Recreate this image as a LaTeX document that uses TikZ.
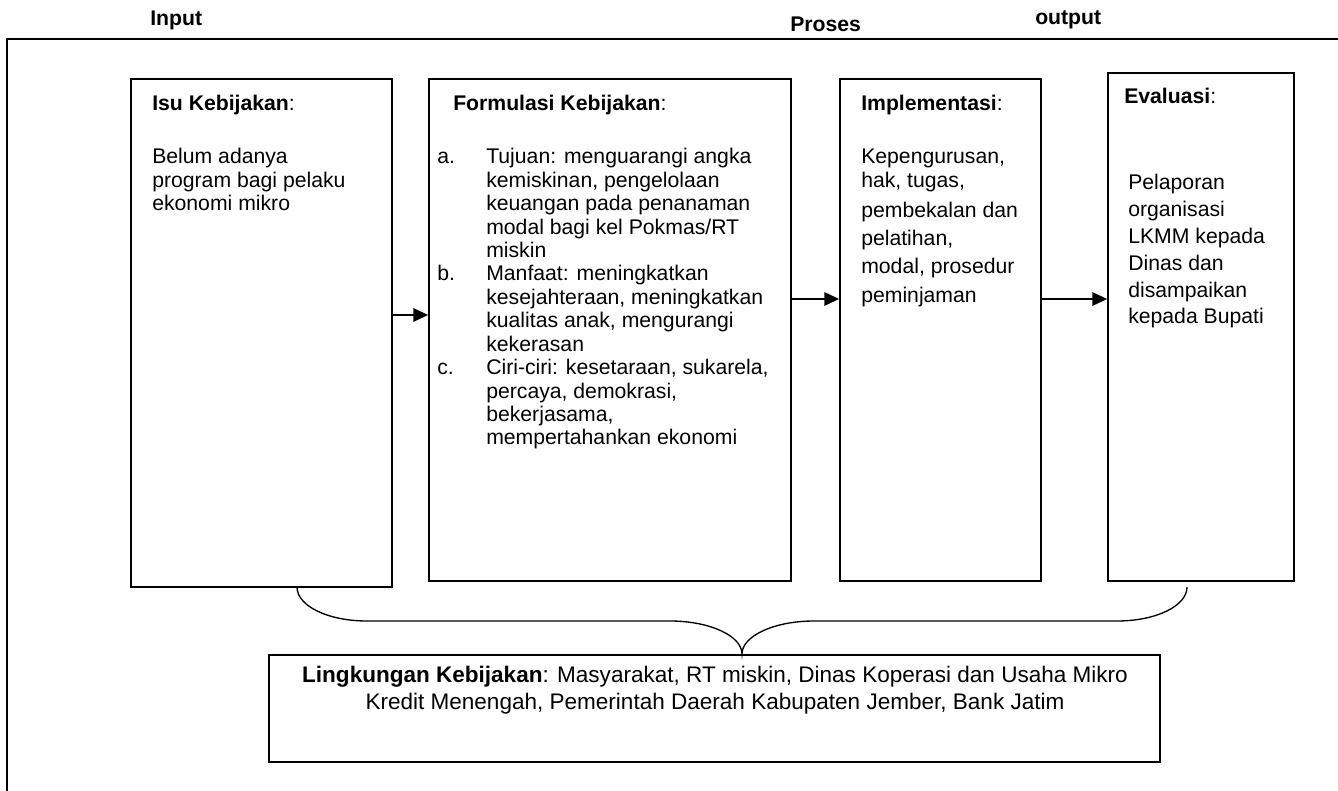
\documentclass[tikz,border=0pt]{standalone}
\usepackage{fontspec}
\setmainfont{Liberation Sans}
\usetikzlibrary{arrows.meta,fit}
\begin{document}
\begin{tikzpicture}[x=0.75pt,y=-0.75pt,
  box/.style={draw, line width=1.3pt, inner sep=0pt},
  frame/.style={line width=1.7pt},
  txt/.style={font=\fontsize{15.9pt}{18pt}\selectfont, inner sep=0pt, anchor=base west},
  ctxt/.style={font=\fontsize{16.9pt}{19pt}\selectfont, inner sep=0pt, anchor=base},
  arr/.style={line width=1.4pt, -{Triangle[length=11pt,width=10pt]}},
  bracepath/.style={line width=1pt}]
\useasboundingbox (0,0) rectangle (1338,791);

% outer frame (only left and top edges visible)
\draw[frame] (7,791) -- (7,39) -- (1338,39);

% headers
\node[txt] (hin) at (150,26) {\textbf{Input}};
\node[txt] (hpr) at (790,32) {\textbf{Proses}};
\node[txt] (hout) at (1035,25) {\textbf{output}};

% boxes
\node[box, fit={(131,79) (392,587)}] (b1) {};
\node[box, fit={(429,79) (791,581)}] (b2) {};
\node[box, fit={(840,79) (1041,581)}] (b3) {};
\node[box, fit={(1108,73) (1294,581)}] (b4) {};
\node[box, fit={(269,655) (1160,762)}] (b5) {};

% box 1 text
\node[txt] (t1h) at (152,111) {\textbf{Isu Kebijakan}:};
\foreach \s [count=\i from 0] in {Belum adanya, program bagi pelaku, ekonomi mikro}
  \node[txt] (t1-\i) at (152,164+23.4*\i) {\s};

% box 2 text
\node[txt] (t2h) at (453,111) {\textbf{Formulasi Kebijakan}:};
\node[txt] (m2a) at (437,164) {a.};
\node[txt] (m2b) at (437,164+23.4*5) {b.};
\node[txt] (m2c) at (437,164+23.4*9) {c.};
\foreach \s [count=\i from 0] in {Tujuan: menguarangi angka, kemiskinan{,} pengelolaan, keuangan pada penanaman, modal bagi kel Pokmas/RT, miskin, Manfaat: meningkatkan, kesejahteraan{,} meningkatkan, kualitas anak{,} mengurangi, kekerasan, Ciri-ciri: kesetaraan{,} sukarela{,}, percaya{,} demokrasi{,}, bekerjasama{,}, mempertahankan ekonomi}
  \node[txt] (t2-\i) at (486,164+23.4*\i) {\s};

% box 3 text
\node[txt] (t3h) at (861,111) {\textbf{Implementasi}:};
\foreach \s/\y [count=\i from 0] in {Kepengurusan{,}/164, hak{,} tugas{,}/188, pembekalan dan/218, pelatihan{,}/246, modal{,} prosedur/274, peminjaman/303}
  \node[txt] (t3-\i) at (861,\y) {\s};

% box 4 text
\node[txt] (t4h) at (1124,104) {\textbf{Evaluasi}:};
\foreach \s [count=\i from 0] in {Pelaporan, organisasi, LKMM kepada, Dinas dan, disampaikan, kepada Bupati}
  \node[txt] (t4-\i) at (1128,190+26.8*\i) {\s};

% environment box text
\node[ctxt] (t5a) at (715,682) {\textbf{Lingkungan Kebijakan}: Masyarakat, RT miskin, Dinas Koperasi dan Usaha Mikro};
\node[ctxt] (t5b) at (715,709) {Kredit Menengah, Pemerintah Daerah Kabupaten Jember, Bank Jatim};

% arrows
\coordinate (y1) at (0,315);
\coordinate (y2) at (0,299);
\draw[arr] (b1.east |- y1) -- (b2.west |- y1);
\draw[arr] (b2.east |- y2) -- (b3.west |- y2);
\draw[arr] (b3.east |- y2) -- (b4.west |- y2);

% brace
\coordinate (bl) at (297,587);
\coordinate (br) at (1187,587);
\coordinate (tip) at (742,654);
\draw[bracepath] (bl) .. controls (297,606) and (328,621) .. (367,621)
  -- (670,621) .. controls (710,621) and (742,636) .. (tip)
  .. controls (742,636) and (774,621) .. (814,621)
  -- (1117,621) .. controls (1156,621) and (1187,606) .. (br);
\end{tikzpicture}
\end{document}
